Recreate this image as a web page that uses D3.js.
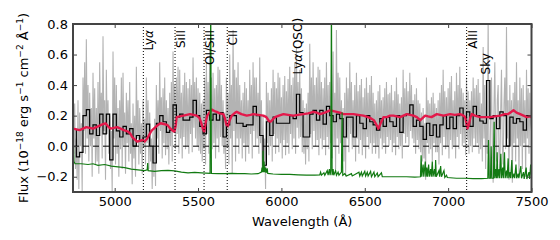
<!DOCTYPE html>
<html><head><meta charset="utf-8">
<script src="https://cdn.jsdelivr.net/npm/d3@7"></script>
<style>body{margin:0;background:#fff}svg{display:block}text{font-family:"DejaVu Sans",sans-serif}</style>
</head><body><svg id="c" width="560" height="240"></svg>
<script>
// ---------- data ----------
const xTicks = [5000, 5500, 6000, 6500, 7000, 7500];
const yTicks = [-0.2, 0.0, 0.2, 0.4, 0.6, 0.8];

// unbinned spectrum (grey), 5 A sampling from 4750 A
const grayStart = 4750, grayStep = 5;
const grayFlux = [
  0.38,-0.05,0.28,-0.15,0.05,-0.22,0.30,-0.28,0.22,0.0,0.15,-0.30,0.45,0.10,0.55,-0.05,0.70,0.05,0.40,-0.10,
  0.35,0.0,0.25,-0.20,0.48,0.05,0.38,-0.12,0.25,-0.10,0.42,-0.18,0.55,0.12,0.35,-0.08,0.72,0.10,0.30,-0.22,
  0.50,0.08,0.30,-0.05,0.20,-0.15,0.10,-0.30,0.62,0.05,0.45,-0.12,0.40,-0.05,0.25,-0.20,0.30,-0.02,0.45,-0.15,
  0.48,0.0,0.22,-0.18,0.35,0.02,0.30,-0.10,0.42,-0.05,0.15,-0.25,0.28,-0.08,0.20,-0.20,0.52,0.05,0.30,-0.12,
  0.25,-0.05,0.15,-0.18,0.30,0.0,0.18,-0.12,0.45,0.02,0.30,-0.15,0.22,-0.10,0.05,-0.28,0.10,-0.20,0.18,-0.26,
  0.40,0.05,0.30,-0.05,0.55,0.10,0.32,-0.08,0.38,0.02,0.45,-0.06,0.30,-0.02,0.25,-0.12,0.35,0.0,0.42,-0.10,
  0.62,0.10,0.40,-0.02,0.45,0.08,0.52,-0.05,0.50,0.05,0.35,-0.08,0.40,0.06,0.48,-0.02,0.42,0.0,0.38,-0.05,
  0.44,0.08,0.40,-0.04,0.58,0.12,0.42,0.05,0.45,0.0,0.38,-0.03,0.35,-0.05,0.28,-0.10,0.30,-0.02,0.45,-0.12,
  0.55,0.08,0.42,-0.05,0.65,0.10,0.45,-0.02,0.48,0.02,0.38,-0.08,0.40,0.05,0.52,-0.04,0.50,0.06,0.40,0.00,
  0.30,-0.05,0.22,-0.15,0.45,0.0,0.35,-0.12,0.60,0.05,0.40,-0.18,0.76,0.10,0.50,-0.10,0.45,0.05,0.55,-0.05,
  0.40,0.05,0.30,-0.08,0.35,0.02,0.42,-0.10,0.38,0.0,0.30,-0.05,0.50,0.08,0.40,-0.08,0.55,0.10,0.45,0.00,
  0.45,0.05,0.35,-0.05,0.58,0.02,0.30,-0.15,0.20,-0.12,0.05,-0.28,0.42,0.02,0.35,-0.06,0.30,0.0,0.38,-0.10,
  0.50,0.08,0.42,-0.05,0.38,0.05,0.48,-0.04,0.45,0.02,0.32,-0.08,0.40,0.04,0.46,-0.06,0.36,0.02,0.44,-0.05,
  0.52,0.08,0.40,-0.02,0.45,0.05,0.55,-0.05,0.65,0.12,0.42,0.05,0.50,0.06,0.38,-0.04,0.30,-0.05,0.25,-0.12,
  0.28,-0.02,0.35,-0.10,0.67,0.08,0.45,-0.02,0.55,0.10,0.40,0.00,0.45,0.04,0.52,-0.06,0.50,0.05,0.42,-0.02,
  0.38,0.04,0.45,-0.06,0.55,0.06,0.40,-0.02,0.42,0.02,0.50,-0.08,0.62,0.0,0.35,-0.15,0.76,0.05,0.48,-0.05,
  0.45,0.02,0.30,-0.08,0.25,-0.10,0.35,-0.20,0.45,0.05,0.38,-0.04,0.55,0.08,0.42,-0.02,0.30,0.0,0.40,-0.10,
  0.48,0.05,0.36,-0.05,0.40,0.04,0.44,-0.06,0.32,0.0,0.38,-0.08,0.45,0.06,0.35,-0.02,0.40,0.02,0.46,-0.05,
  0.35,0.02,0.28,-0.05,0.30,0.0,0.36,-0.08,0.40,0.05,0.30,-0.02,0.32,0.02,0.38,-0.05,0.42,0.06,0.34,0.00,
  0.35,0.04,0.40,-0.04,0.30,0.02,0.36,-0.06,0.45,0.06,0.34,-0.02,0.28,0.0,0.32,-0.08,0.50,0.08,0.38,0.02,
  0.42,0.06,0.36,0.00,0.48,0.10,0.40,0.05,0.30,0.02,0.34,-0.05,0.38,0.04,0.30,-0.02,0.28,-0.04,0.22,-0.10,
  0.25,-0.08,0.15,-0.22,0.45,0.02,0.30,-0.05,0.28,-0.02,0.32,-0.10,0.35,0.02,0.28,-0.04,0.25,-0.04,0.30,-0.12,
  0.35,0.02,0.40,-0.06,0.50,0.06,0.36,-0.02,0.32,0.0,0.38,-0.08,0.42,0.04,0.46,-0.02,0.30,0.0,0.36,-0.08,
  0.48,0.06,0.40,-0.02,0.52,0.08,0.38,0.00,0.35,0.02,0.30,-0.06,0.45,0.04,0.36,-0.05,0.30,0.0,0.36,-0.04,
  0.45,0.05,0.38,0.00,0.40,0.02,0.44,-0.05,0.35,-0.02,0.28,-0.10,0.65,0.05,0.40,-0.15,0.30,-0.05,0.85,-0.10,
  -0.20,0.20,0.45,0.0,-0.24,0.25,0.55,0.02,-0.10,0.30,0.40,-0.05,-0.18,0.22,0.50,0.0,-0.12,0.28,0.45,-0.02,
  0.78,0.05,0.30,-0.22,0.40,0.0,0.30,-0.24,0.35,0.02,0.42,-0.10,0.55,0.05,0.30,-0.20,0.45,0.0,0.38,-0.15,
  0.40,0.02,0.30,-0.20,0.50,0.05,0.38,-0.05,0.35,0.15,0.10
];

// binned spectrum (black steps), 20 A bins from 4750 A
const binStart = 4750, binWidth = 20;
const binFlux = [
  0.11,-0.07,-0.04,0.20,0.24,0.08,0.14,0.07,0.21,0.08,
  0.21,-0.09,0.21,0.10,0.06,0.13,0.08,0.115,0.0,0.07,
  0.035,0.06,0.145,0.0,-0.11,0.15,0.20,0.16,0.09,0.105,
  0.27,0.19,0.21,0.17,0.17,0.19,0.30,0.20,0.13,0.08,
  0.235,0.17,0.21,0.17,0.22,0.06,0.14,0.20,0.20,0.15,
  0.15,0.13,0.14,0.14,0.26,0.20,0.07,-0.125,0.16,0.07,
  0.19,0.15,0.15,0.15,0.15,0.20,0.18,0.34,0.22,0.06,
  0.06,0.21,0.235,0.17,0.235,0.145,0.26,0.20,0.16,0.21,
  0.18,0.06,0.19,0.19,0.06,0.20,0.15,0.115,0.20,0.16,
  0.14,0.105,0.18,0.13,0.19,0.16,0.13,0.20,0.09,0.20,
  0.21,0.27,0.13,0.17,0.13,0.045,0.15,0.07,0.14,0.06,
  0.14,0.20,0.115,0.19,0.115,0.20,0.25,0.13,0.225,0.13,
  0.26,0.20,0.165,0.15,0.43,0.18,0.20,0.115,0.225,0.20,
  0.0,0.19,0.15,0.18,0.16,0.105,0.20,0.20
];

// model (red): [wavelength, flux]
const modelSpec = [
  [4750,0.115],[4770,0.11],[4790,0.105],[4810,0.115],[4830,0.125],[4850,0.12],[4870,0.115],[4890,0.125],
  [4910,0.135],[4930,0.145],[4945,0.15],[4960,0.13],[4975,0.115],[4995,0.12],[5015,0.125],[5035,0.115],
  [5055,0.105],[5080,0.095],[5095,0.08],[5105,0.06],[5120,0.045],[5135,0.03],[5150,0.035],[5165,0.04],
  [5180,0.03],[5195,0.05],[5205,0.07],[5220,0.1],[5235,0.115],[5255,0.135],[5275,0.15],[5295,0.145],
  [5315,0.14],[5330,0.12],[5345,0.105],[5358,0.095],[5365,0.13],[5372,0.19],[5390,0.195],[5412,0.2],
  [5432,0.205],[5452,0.21],[5472,0.205],[5492,0.2],[5508,0.185],[5520,0.15],[5530,0.11],[5537,0.095],
  [5545,0.15],[5555,0.2],[5565,0.215],[5582,0.24],[5598,0.23],[5612,0.225],[5630,0.215],[5652,0.21],
  [5662,0.18],[5670,0.14],[5678,0.13],[5690,0.17],[5702,0.2],[5718,0.215],[5732,0.225],[5760,0.21],
  [5792,0.2],[5815,0.205],[5832,0.21],[5860,0.205],[5892,0.2],[5910,0.19],[5925,0.165],[5935,0.16],
  [5948,0.175],[5962,0.19],[5985,0.2],[6012,0.21],[6040,0.205],[6072,0.2],[6100,0.205],[6132,0.21],
  [6160,0.215],[6192,0.225],[6212,0.22],[6232,0.21],[6260,0.22],[6292,0.235],[6312,0.23],[6332,0.225],
  [6352,0.22],[6372,0.21],[6400,0.21],[6432,0.21],[6460,0.205],[6492,0.2],[6520,0.19],[6540,0.18],
  [6555,0.17],[6570,0.14],[6582,0.115],[6595,0.15],[6612,0.19],[6632,0.19],[6652,0.2],[6672,0.2],
  [6692,0.195],[6712,0.19],[6732,0.2],[6752,0.21],[6772,0.205],[6792,0.2],[6812,0.19],[6832,0.17],
  [6848,0.185],[6862,0.2],[6880,0.195],[6900,0.19],[6932,0.21],[6952,0.205],[6972,0.2],[6992,0.205],
  [7012,0.21],[7040,0.205],[7072,0.21],[7092,0.2],[7102,0.19],[7110,0.15],[7116,0.115],[7124,0.14],
  [7134,0.19],[7142,0.21],[7160,0.2],[7192,0.19],[7220,0.19],[7252,0.19],[7280,0.195],[7312,0.2],
  [7340,0.21],[7360,0.21],[7380,0.225],[7392,0.235],[7410,0.22],[7432,0.21],[7452,0.2],[7472,0.19],
  [7490,0.195],[7500,0.19]
];

// error spectrum (green, offset): [wavelength, flux]
const errorSpec = [
  [4750,0.10],[4752,0.02],[4756,-0.10],[4762,-0.115],[4800,-0.115],[4840,-0.12],[4870,-0.115],[4900,-0.125],
  [4940,-0.12],[4980,-0.13],[5020,-0.135],[5060,-0.14],[5100,-0.15],[5140,-0.155],[5180,-0.16],[5195,-0.155],
  [5198,-0.11],[5201,-0.16],[5240,-0.165],[5280,-0.16],[5320,-0.158],[5360,-0.162],[5400,-0.17],[5440,-0.175],
  [5480,-0.172],[5520,-0.175],[5572,-0.178],[5576,0.95],[5580,-0.178],[5620,-0.18],[5660,-0.18],[5700,-0.178],
  [5740,-0.18],[5780,-0.18],[5820,-0.182],[5860,-0.18],[5880,-0.17],[5884,-0.14],[5887,-0.17],[5890,-0.03],
  [5893,-0.17],[5896,-0.1],[5899,-0.17],[5905,-0.14],[5908,-0.175],[5915,-0.145],[5918,-0.178],[5950,-0.182],
  [6000,-0.185],[6050,-0.185],[6100,-0.188],[6150,-0.19],[6200,-0.19],[6230,-0.188],[6235,-0.17],[6240,-0.19],
  [6255,-0.175],[6260,-0.19],[6275,-0.16],[6280,-0.19],[6288,-0.15],[6292,-0.19],[6296,-0.16],[6300,0.95],
  [6304,-0.19],[6310,-0.15],[6314,-0.19],[6325,-0.16],[6330,-0.19],[6340,-0.17],[6345,-0.19],[6360,-0.17],
  [6364,0.22],[6368,-0.19],[6380,-0.18],[6390,-0.195],[6420,-0.18],[6425,-0.195],[6465,-0.17],[6470,-0.195],
  [6480,-0.17],[6485,-0.195],[6500,-0.165],[6505,-0.195],[6515,-0.17],[6520,-0.195],[6535,-0.165],[6540,-0.2],
  [6555,-0.17],[6560,-0.2],[6575,-0.175],[6580,-0.2],[6600,-0.175],[6605,-0.2],[6650,-0.2],[6700,-0.2],
  [6750,-0.2],[6800,-0.202],[6834,-0.2],[6838,-0.06],[6842,-0.2],[6850,-0.12],[6854,-0.2],[6863,-0.1],
  [6867,-0.2],[6872,-0.14],[6876,-0.2],[6883,-0.12],[6887,-0.2],[6895,-0.15],[6899,-0.2],[6905,-0.1],
  [6909,-0.2],[6918,-0.15],[6922,-0.2],[6925,-0.09],[6929,-0.2],[6945,-0.16],[6949,-0.2],[6955,-0.13],
  [6960,-0.2],[6975,-0.16],[6980,-0.205],[6990,-0.19],[6995,-0.205],[7050,-0.21],[7100,-0.21],[7150,-0.212],
  [7200,-0.212],[7238,-0.21],[7242,0.04],[7246,-0.21],[7254,-0.21],[7258,0.0],[7262,-0.21],[7272,-0.21],
  [7276,0.16],[7280,-0.21],[7286,-0.15],[7290,-0.21],[7294,-0.04],[7298,-0.21],[7305,-0.15],[7309,-0.21],
  [7316,-0.05],[7320,-0.21],[7327,-0.14],[7331,-0.21],[7338,-0.04],[7342,-0.21],[7350,-0.16],[7354,-0.21],
  [7360,-0.08],[7364,-0.21],[7371,-0.17],[7375,-0.21],[7382,-0.09],[7386,-0.21],[7395,-0.18],[7399,-0.21],
  [7407,-0.12],[7411,-0.21],[7420,-0.18],[7424,-0.21],[7436,-0.13],[7440,-0.21],[7452,-0.17],[7456,-0.215],
  [7468,-0.14],[7472,-0.215],[7485,-0.17],[7489,-0.215],[7495,-0.12],[7500,-0.2]
];

// absorption lines (dotted)
const lineNames = ["Lyα", "SiII", "OI/SiII", "CII", "AlII"];
const lineWaves = [5172, 5362, 5536, 5675, 7111];
// other annotations: [label, wavelength, flux]
const extraNotes = [["Lyα(QSO)", 6124, 0.47], ["Sky", 7252, 0.47]];

// ---------- drawing ----------
const svg = d3.select("#c");
const L = 73, R = 531.5, T = 24, B = 192;
const x = d3.scaleLinear().domain([4750, 7500]).range([L, R]);
const y = d3.scaleLinear().domain([-0.3, 0.8]).range([B, T]);
const frameCol = "#444";

svg.append("defs").append("clipPath").attr("id", "pc")
  .append("rect").attr("x", L).attr("y", T).attr("width", R - L).attr("height", B - T);
const g = svg.append("g").attr("clip-path", "url(#pc)");

// grey spectrum
g.append("path")
  .attr("d", d3.line().x((d, i) => x(grayStart + i * grayStep)).y(d => y(d))(grayFlux))
  .attr("fill", "none").attr("stroke", "#b3b3b3").attr("stroke-width", 1.1);

// zero line
g.append("line").attr("x1", L).attr("x2", R).attr("y1", y(0)).attr("y2", y(0))
  .attr("stroke", "#000").attr("stroke-width", 1).attr("stroke-dasharray", "6,4");

// binned steps
const steps = binFlux.map((v, i) => [binStart + i * binWidth, v]);
steps.push([binStart + binFlux.length * binWidth, binFlux[binFlux.length - 1]]);
g.append("path")
  .attr("d", d3.line().curve(d3.curveStepAfter).x(d => x(d[0])).y(d => y(d[1]))(steps))
  .attr("fill", "none").attr("stroke", "#000").attr("stroke-width", 1.2);

// model
g.append("path")
  .attr("d", d3.line().x(d => x(d[0])).y(d => y(d[1]))(modelSpec))
  .attr("fill", "none").attr("stroke", "#e3194b").attr("stroke-width", 2.4).attr("stroke-linejoin", "round");

// error
g.append("path")
  .attr("d", d3.line().x(d => x(d[0])).y(d => y(d[1]))(errorSpec))
  .attr("fill", "none").attr("stroke", "#127a12").attr("stroke-width", 1.2);

// dotted lines
g.selectAll("line.abs").data(lineWaves).join("line").attr("class", "abs")
  .attr("x1", d => x(d)).attr("x2", d => x(d)).attr("y1", T).attr("y2", B)
  .attr("stroke", "#000").attr("stroke-width", 1).attr("stroke-dasharray", "1,2");

// line labels
function addLabel(txt, tx, ty, anchor) {
  const t = svg.append("text").attr("transform", `translate(${tx},${ty}) rotate(-90)`)
    .attr("text-anchor", anchor).attr("font-size", 12).attr("fill", "#000");
  const idx = txt.indexOf("α");
  if (idx >= 0) {
    t.append("tspan").text(txt.slice(0, idx));
    t.append("tspan").attr("font-style", "italic").text("α");
    t.append("tspan").text(txt.slice(idx + 1));
  } else t.text(txt);
}
lineNames.forEach((n, i) => addLabel(n, x(lineWaves[i]) + 10, 30, "end"));
extraNotes.forEach(d => addLabel(d[0], x(d[1]), y(d[2]), "start"));

// axes
const fs = 13;
const axB = svg.append("g").attr("transform", `translate(0,${B})`)
  .call(d3.axisBottom(x).tickValues(xTicks).tickSizeInner(-4).tickSizeOuter(0).tickPadding(5).tickFormat(d3.format("d")));
const axT = svg.append("g").attr("transform", `translate(0,${T})`)
  .call(d3.axisTop(x).tickValues(xTicks).tickSizeInner(-4).tickSizeOuter(0).tickFormat(""));
const axL = svg.append("g").attr("transform", `translate(${L},0)`)
  .call(d3.axisLeft(y).tickValues(yTicks).tickSizeInner(-4).tickSizeOuter(0).tickPadding(5).tickFormat(d3.format(".1f")));
const axR = svg.append("g").attr("transform", `translate(${R},0)`)
  .call(d3.axisRight(y).tickValues(yTicks).tickSizeInner(-4).tickSizeOuter(0).tickFormat(""));
[axB, axT, axL, axR].forEach(a => {
  a.select(".domain").remove();
  a.selectAll(".tick line").attr("stroke", frameCol).attr("stroke-width", 1);
  a.selectAll("text").attr("font-size", fs).attr("fill", "#000").attr("font-family", "DejaVu Sans");
});

// frame
svg.append("rect").attr("x", L).attr("y", T).attr("width", R - L).attr("height", B - T)
  .attr("fill", "none").attr("stroke", frameCol).attr("stroke-width", 2);

// axis titles
svg.append("text").attr("x", (L + R) / 2).attr("y", 226).attr("text-anchor", "middle")
  .attr("font-size", fs).text("Wavelength (Å)");

const yl = svg.append("text").attr("transform", `translate(28,${(T + B) / 2}) rotate(-90)`)
  .attr("text-anchor", "middle").attr("font-size", fs);
const parts = [["Flux (10", 0], ["−18", 1], [" erg s", 0], ["−1", 1], [" cm", 0], ["−2", 1], [" Å", 0], ["−1", 1], [")", 0]];
let prevSup = false;
parts.forEach(([s, sup]) => {
  const ts = yl.append("tspan").text(s);
  if (sup) { ts.attr("font-size", 9).attr("dy", prevSup ? 0 : -5); prevSup = true; }
  else { ts.attr("dy", prevSup ? 5 : 0); prevSup = false; }
});
</script></body></html>
